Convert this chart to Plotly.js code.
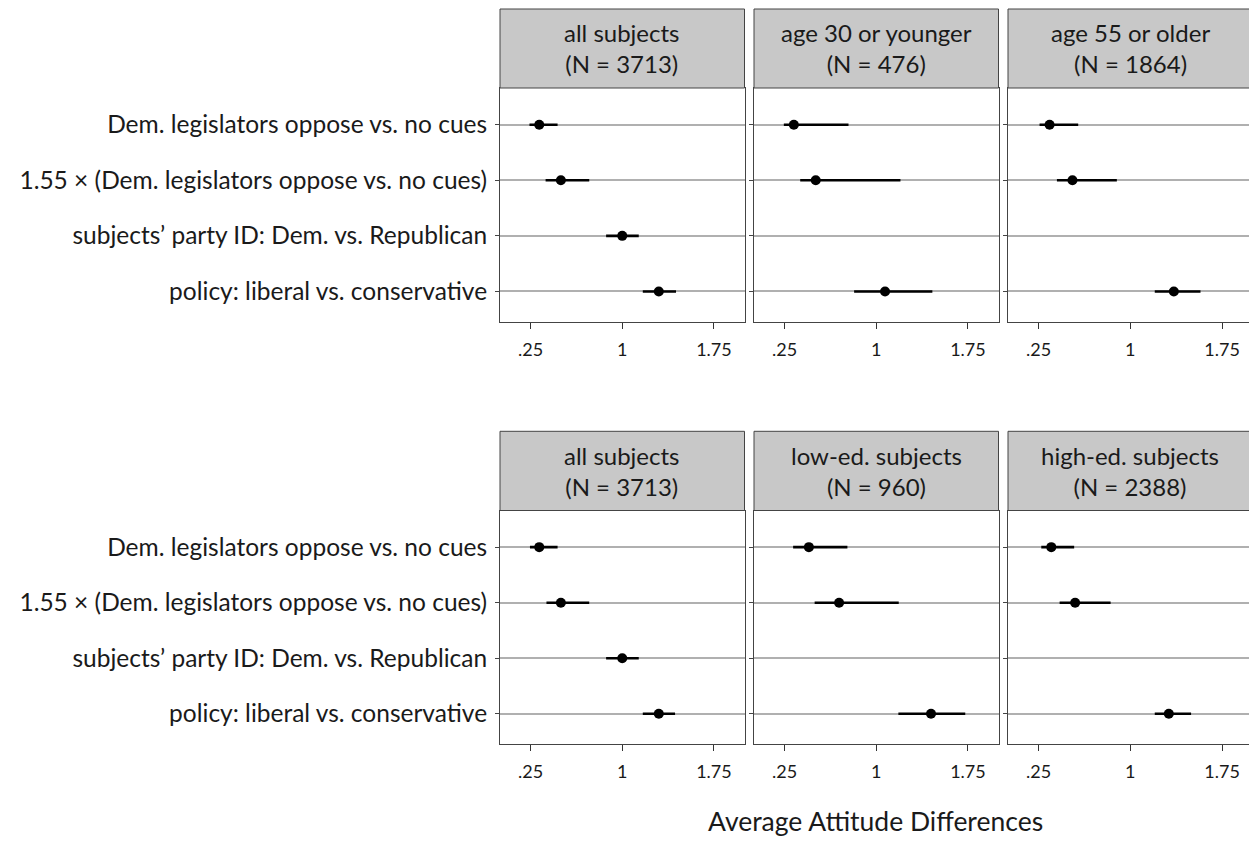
<!DOCTYPE html>
<html>
<head>
<meta charset="utf-8">
<script src="https://cdn.plot.ly/plotly-3.0.1.min.js"></script>
<style>html,body{margin:0;padding:0;background:#fff;}#chart{width:1249px;height:848px;}</style>
</head>
<body>
<div id="chart"></div>
<script>
// Row labels (top to bottom)
const rowLabels = [
  "Dem. legislators oppose vs. no cues",
  "1.55 × (Dem. legislators oppose vs. no cues)",
  "subjects’ party ID: Dem. vs. Republican",
  "policy: liberal vs. conservative"
];
const panelTitles = [
  "all subjects<br>(N = 3713)", "age 30 or younger<br>(N = 476)", "age 55 or older<br>(N = 1864)",
  "all subjects<br>(N = 3713)", "low-ed. subjects<br>(N = 960)", "high-ed. subjects<br>(N = 2388)"
];
const tickVals = [0.25, 1, 1.75];
const tickLabels = [".25", "1", "1.75"];
const xTitle = "Average Attitude Differences";

// Estimates, lower and upper bounds per panel (null = not estimated)
const est1 = [0.321, 0.498, 1.000, 1.299];
const lo1  = [0.241, 0.373, 0.868, 1.168];
const hi1  = [0.471, 0.730, 1.135, 1.440];

const est2 = [0.326, 0.505, null, 1.072];
const lo2  = [0.244, 0.378, null, 0.819];
const hi2  = [0.773, 1.198, null, 1.459];

const est3 = [0.340, 0.527, null, 1.356];
const lo3  = [0.258, 0.400, null, 1.200];
const hi3  = [0.574, 0.890, null, 1.574];

const est4 = [0.321, 0.498, 1.000, 1.299];
const lo4  = [0.245, 0.380, 0.868, 1.168];
const hi4  = [0.471, 0.730, 1.135, 1.432];

const est5 = [0.449, 0.696, null, 1.448];
const lo5  = [0.320, 0.496, null, 1.181];
const hi5  = [0.764, 1.184, null, 1.728];

const est6 = [0.354, 0.549, null, 1.315];
const lo6  = [0.272, 0.422, null, 1.200];
const hi6  = [0.541, 0.839, null, 1.497];

const panels = [
  {est: est1, lo: lo1, hi: hi1},
  {est: est2, lo: lo2, hi: hi2},
  {est: est3, lo: lo3, hi: hi3},
  {est: est4, lo: lo4, hi: hi4},
  {est: est5, lo: lo5, hi: hi5},
  {est: est6, lo: lo6, hi: hi6}
];

const W = 1249, H = 848;
const FONT = "Lato, 'Open Sans', sans-serif";
const rowY = [4, 3, 2, 1];
// pixel geometry of the panels
const colPx = [[500, 744.5], [754, 998.5], [1008, 1249]];
const xRanges = [[0, 2], [0, 2], [0, (1249 - 1008) / 122.3]];
const rowPx = [[88, 322], [510.5, 744.3]];
const headPx = [[9, 88], [431.3, 510.5]];

const data = [];
const layout = {
  width: W, height: H,
  margin: {l: 0, r: 0, t: 0, b: 0},
  paper_bgcolor: "#fff", plot_bgcolor: "#fff",
  showlegend: false,
  font: {family: FONT, color: "#1a1a1a"},
  shapes: [], annotations: []
};

panels.forEach((p, i) => {
  const r = Math.floor(i / 3), c = i % 3;
  const k = i + 1;
  const xa = "x" + (k === 1 ? "" : k), ya = "y" + (k === 1 ? "" : k);
  const xs = [], ys = [];
  p.est.forEach((e, j) => {
    if (e === null) return;
    xs.push(p.lo[j], p.hi[j], null);
    ys.push(rowY[j], rowY[j], null);
  });
  data.push({type: "scatter", mode: "lines", x: xs, y: ys, xaxis: xa, yaxis: ya,
    line: {color: "#000", width: 2.6}, hoverinfo: "skip"});
  const mx = [], my = [];
  p.est.forEach((e, j) => { if (e !== null) { mx.push(e); my.push(rowY[j]); } });
  data.push({type: "scatter", mode: "markers", x: mx, y: my, xaxis: xa, yaxis: ya,
    marker: {color: "#000", size: 10}});

  const xd = [colPx[c][0] / W, colPx[c][1] / W];
  const yd = [1 - rowPx[r][1] / H, 1 - rowPx[r][0] / H];
  layout["xaxis" + (k === 1 ? "" : k)] = {
    domain: xd, range: xRanges[c], anchor: ya,
    tickvals: tickVals, ticktext: tickLabels, ticks: "outside", ticklen: 6, tickwidth: 1,
    tickcolor: "#333", showgrid: false, zeroline: false, showline: true, mirror: true,
    linecolor: "#444", linewidth: 1, tickfont: {size: 18, family: FONT, color: "#1a1a1a"},
    ticklabelstandoff: 5, fixedrange: true
  };
  layout["yaxis" + (k === 1 ? "" : k)] = {
    domain: yd, range: [0.45, 4.66], anchor: xa,
    tickvals: rowY, ticktext: c === 0 ? rowLabels : ["", "", "", ""],
    showticklabels: c === 0,
    ticks: "outside", ticklen: 4, tickwidth: 1, tickcolor: "#444",
    showgrid: true, gridcolor: "#b0b0b0", gridwidth: 2, zeroline: false,
    showline: true, mirror: true, linecolor: "#444", linewidth: 1,
    tickfont: {size: 24.5, family: FONT, color: "#1a1a1a"}, ticklabelstandoff: 3,
    fixedrange: true
  };
  // header strip
  layout.shapes.push({type: "rect", xref: "paper", yref: "paper",
    x0: xd[0], x1: c === 2 ? 1.01 : xd[1], y0: 1 - headPx[r][1] / H, y1: 1 - headPx[r][0] / H,
    fillcolor: "#c8c8c8", line: {color: "#444", width: 1}, layer: "above"});
  layout.annotations.push({xref: "paper", yref: "paper",
    x: (colPx[c][0] + (c === 2 ? 1252.5 : colPx[c][1])) / 2 / W,
    y: 1 - (headPx[r][0] + headPx[r][1]) / 2 / H,
    text: panelTitles[i], showarrow: false, xanchor: "center", yanchor: "middle",
    font: {size: 24, family: FONT, color: "#1a1a1a"}, align: "center"});
});

layout.annotations.push({xref: "paper", yref: "paper", x: 875 / W, y: 1 - 821 / H,
  text: xTitle, showarrow: false, xanchor: "center", yanchor: "middle",
  font: {size: 26.5, family: FONT, color: "#1a1a1a"}});

Plotly.newPlot("chart", data, layout, {displayModeBar: false, staticPlot: true});
</script>
</body>
</html>
